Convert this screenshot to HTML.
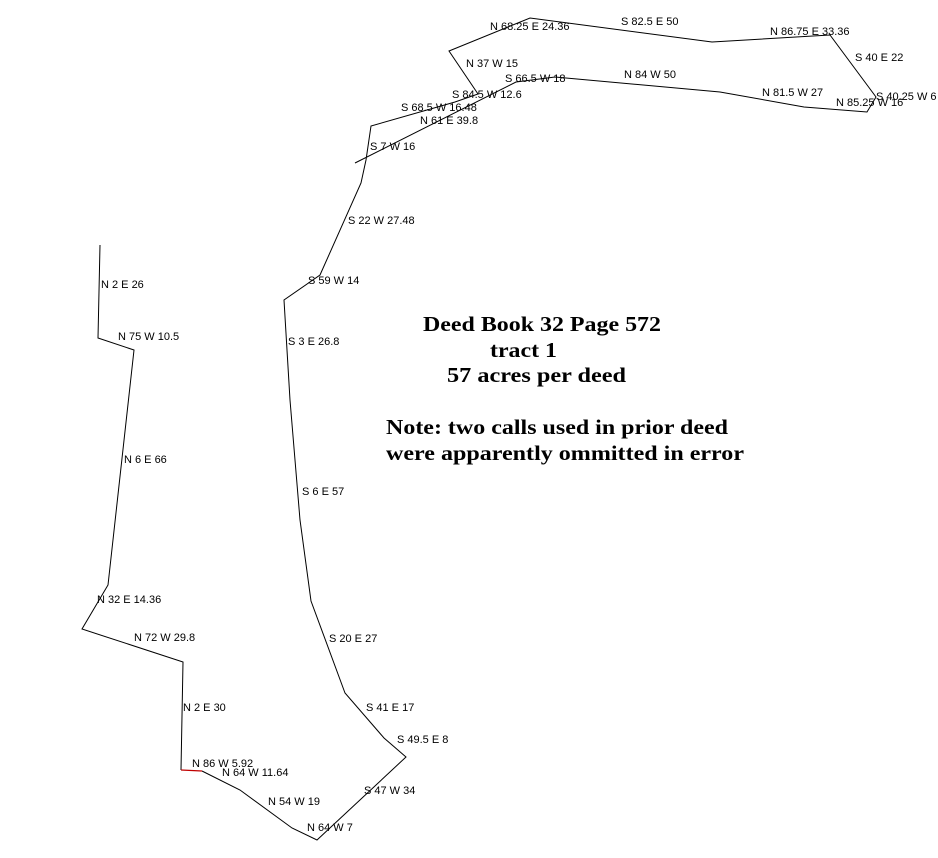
<!DOCTYPE html>
<html><head><meta charset="utf-8"><style>
html,body{margin:0;padding:0;background:#fff;}
svg{display:block;}
.l{font-family:"Liberation Sans",sans-serif;font-size:11px;fill:#000;}
.t{font-family:"Liberation Serif",serif;font-size:21px;font-weight:bold;fill:#000;}
</style></head><body>
<svg width="938" height="858" viewBox="0 0 938 858" xmlns="http://www.w3.org/2000/svg">
<g fill="none" stroke="#000" stroke-width="1">
<polyline points="100,245 98,338 134,350 108,585 82,629 183,662 181,770"/>
<polyline points="202,771 240,790 292,828 317,840 406,757 384,738 345,693 311,601 300,520 290,400 284,300 320,275 361,183 366,160 371,126 455,102 478,94 449,51 530,18 712,42 830,35 876,97 867,112 804,107 720,92 555,77 516,82 355,163"/>
</g>
<line x1="181" y1="770" x2="202" y2="771" stroke="#c00000" stroke-width="1.2"/>
<g class="l">
<text x="490" y="30">N 68.25 E 24.36</text>
<text x="621" y="25">S 82.5 E 50</text>
<text x="770" y="35">N 86.75 E 33.36</text>
<text x="855" y="61">S 40 E 22</text>
<text x="466" y="67">N 37 W 15</text>
<text x="505" y="82">S 66.5 W 18</text>
<text x="624" y="78">N 84 W 50</text>
<text x="762" y="96">N 81.5 W 27</text>
<text x="836" y="106">N 85.25 W 16</text>
<text x="876" y="100">S 40.25 W 6</text>
<text x="452" y="98">S 84.5 W 12.6</text>
<text x="401" y="111">S 68.5 W 16.48</text>
<text x="420" y="124">N 61 E 39.8</text>
<text x="370" y="150">S 7 W 16</text>
<text x="348" y="224">S 22 W 27.48</text>
<text x="308" y="284">S 59 W 14</text>
<text x="101" y="288">N 2 E 26</text>
<text x="118" y="340">N 75 W 10.5</text>
<text x="288" y="345">S 3 E 26.8</text>
<text x="124" y="463">N 6 E 66</text>
<text x="302" y="495">S 6 E 57</text>
<text x="97" y="603">N 32 E 14.36</text>
<text x="134" y="641">N 72 W 29.8</text>
<text x="329" y="642">S 20 E 27</text>
<text x="183" y="711">N 2 E 30</text>
<text x="366" y="711">S 41 E 17</text>
<text x="397" y="743">S 49.5 E 8</text>
<text x="192" y="767">N 86 W 5.92</text>
<text x="222" y="776">N 64 W 11.64</text>
<text x="364" y="794">S 47 W 34</text>
<text x="268" y="805">N 54 W 19</text>
<text x="307" y="831">N 64 W 7</text>
</g>
<g class="t">
<text x="423" y="331" textLength="238" lengthAdjust="spacingAndGlyphs">Deed Book 32 Page 572</text>
<text x="490" y="357" textLength="67" lengthAdjust="spacingAndGlyphs">tract 1</text>
<text x="447" y="382" textLength="179" lengthAdjust="spacingAndGlyphs">57 acres per deed</text>
<text x="386" y="434" textLength="342" lengthAdjust="spacingAndGlyphs">Note: two calls used in prior deed</text>
<text x="386" y="460" textLength="358" lengthAdjust="spacingAndGlyphs">were apparently ommitted in error</text>
</g>
</svg>
</body></html>
